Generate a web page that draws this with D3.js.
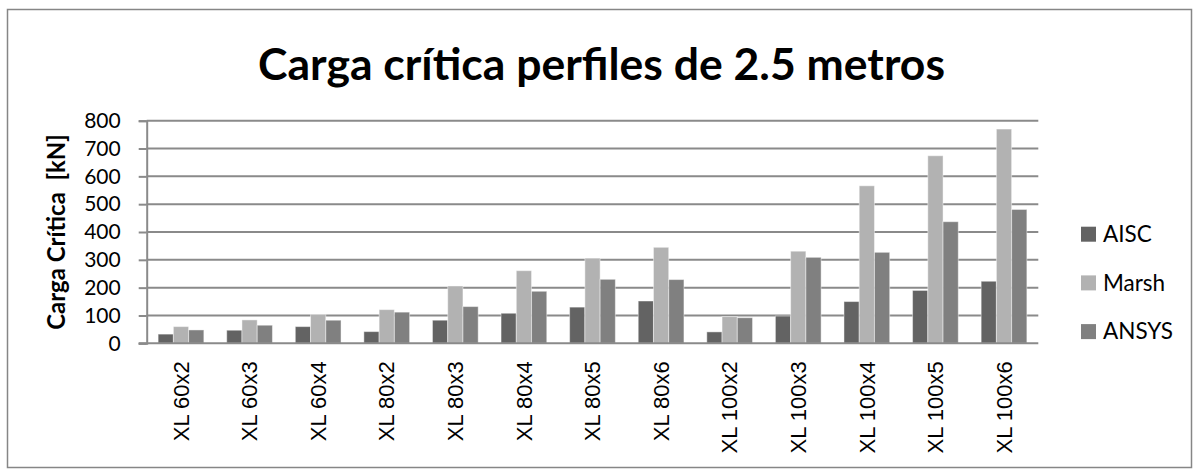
<!DOCTYPE html>
<html>
<head>
<meta charset="utf-8">
<script src="https://cdn.jsdelivr.net/npm/d3@7"></script>
<style>
    body { margin: 0; background: #fff; }
    svg { display: block; }
</style>
</head>
<body>
<div id="chart"></div>
<script>
const categories = ['XL 60x2', 'XL 60x3', 'XL 60x4', 'XL 80x2', 'XL 80x3', 'XL 80x4', 'XL 80x5',
    'XL 80x6', 'XL 100x2', 'XL 100x3', 'XL 100x4', 'XL 100x5', 'XL 100x6'];
const aisc = [33, 47, 60, 42, 83, 108, 130, 152, 41, 98, 150, 190, 223];
const marsh = [60, 84, 104, 121, 206, 261, 306, 345, 96, 331, 566, 674, 770];
const ansys = [48, 65, 83, 112, 132, 187, 230, 229, 92, 309, 327, 437, 481];
const seriesNames = ['AISC', 'Marsh', 'ANSYS'];
const seriesColors = ['#636363', '#b2b2b2', '#808080'];
const yTicks = [0, 100, 200, 300, 400, 500, 600, 700, 800];

const width = 1200, height = 472;
const margin = { top: 120.7, right: 161.7, bottom: 128.7, left: 146.7 };
const innerW = width - margin.left - margin.right;
const innerH = height - margin.top - margin.bottom;

const svg = d3.select('#chart')
    .append('svg')
    .attr('width', width)
    .attr('height', height);

// outer frame
svg.append('rect')
    .attr('x', 7.5).attr('y', 9.5)
    .attr('width', 1184).attr('height', 458)
    .attr('fill', '#fff')
    .attr('stroke', '#868686')
    .attr('stroke-width', 1.5);

svg.append('text')
    .attr('x', 601.5)
    .attr('y', 80)
    .attr('text-anchor', 'middle')
    .style('font-family', 'Lato, "Open Sans", sans-serif')
    .style('font-weight', 'bold')
    .style('font-size', '44.5px')
    .text('Carga crítica perfiles de 2.5 metros');

const g = svg.append('g')
    .attr('transform', `translate(${margin.left}, ${margin.top})`);

const x = d3.scaleBand()
    .domain(categories)
    .range([0, innerW])
    .paddingInner(1 / 3)
    .paddingOuter(1 / 6);

const xSub = d3.scaleBand()
    .domain(seriesNames)
    .range([0, x.bandwidth()]);

const y = d3.scaleLinear()
    .domain([0, 800])
    .range([innerH, 0]);

// gridlines
g.append('g')
    .selectAll('line')
    .data(yTicks.slice(1))
    .enter()
    .append('line')
    .attr('x1', 0).attr('x2', innerW)
    .attr('y1', d => y(d)).attr('y2', d => y(d))
    .attr('stroke', '#8a8a8a')
    .attr('stroke-width', 2);

// y axis
const yAxis = g.append('g')
    .call(d3.axisLeft(y).tickValues(yTicks).tickSize(8).tickPadding(18));
yAxis.select('.domain').attr('stroke', '#8a8a8a').attr('stroke-width', 2);
yAxis.selectAll('.tick line').attr('stroke', '#8a8a8a').attr('stroke-width', 2);
yAxis.selectAll('.tick text')
    .attr('fill', '#000')
    .style('font-family', 'Lato, sans-serif')
    .style('font-size', '21px');

const seriesData = [aisc, marsh, ansys];
categories.forEach((cat, i) => {
    const grp = g.append('g').attr('transform', `translate(${x(cat)}, 0)`);
    seriesNames.forEach((s, j) => {
        const v = seriesData[j][i];
        grp.append('rect')
            .attr('x', xSub(s))
            .attr('y', y(v))
            .attr('width', xSub.bandwidth())
            .attr('height', innerH - y(v))
            .attr('fill', seriesColors[j])
            .attr('stroke', 'rgba(255,255,255,0.45)')
            .attr('stroke-width', 1);
    });
});

// x axis
const xAxis = g.append('g')
    .attr('transform', `translate(0, ${innerH})`)
    .call(d3.axisBottom(x).tickSize(0).tickPadding(0));
xAxis.select('.domain').remove();
g.append('line')
    .attr('x1', -8).attr('x2', innerW)
    .attr('y1', innerH).attr('y2', innerH)
    .attr('stroke', '#8a8a8a')
    .attr('stroke-width', 2);
xAxis.selectAll('.tick text')
    .attr('fill', '#000')
    .attr('transform', 'rotate(-90)')
    .attr('text-anchor', 'end')
    .attr('x', -18)
    .attr('y', 0)
    .attr('dy', '0.35em')
    .style('font-family', '"Liberation Sans", Arial, sans-serif')
    .style('font-size', '22px');

// y title
svg.append('text')
    .attr('transform', 'translate(57, 232) rotate(-90)')
    .attr('text-anchor', 'middle')
    .attr('dy', '0.35em')
    .attr('xml:space', 'preserve')
    .style('font-family', 'Lato, sans-serif')
    .style('font-weight', 'bold')
    .style('font-size', '24px')
    .text('Carga Crítica  [kN]');

// legend
const legend = svg.append('g').attr('transform', 'translate(1081, 226.7)');
seriesNames.forEach((s, j) => {
    const row = legend.append('g').attr('transform', `translate(0, ${j * 48.7})`);
    row.append('rect')
        .attr('width', 15).attr('height', 15)
        .attr('fill', seriesColors[j]);
    row.append('text')
        .attr('x', 22)
        .attr('y', 7.5)
        .attr('dy', '0.35em')
        .style('font-family', 'Lato, sans-serif')
        .style('font-size', '22.5px')
        .text(s);
});
</script>
</body>
</html>
